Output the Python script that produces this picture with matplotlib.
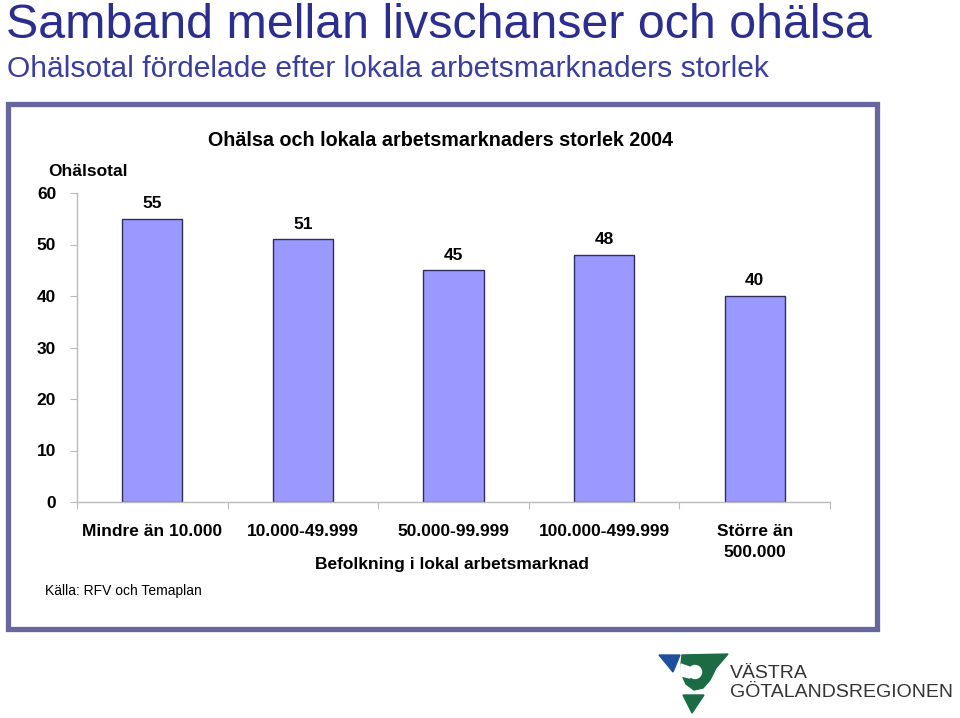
import matplotlib.pyplot as plt
from matplotlib.patches import Rectangle, Polygon, Ellipse

plt.rcParams['font.family'] = ['Liberation Sans', 'DejaVu Sans']

# data
categories = ['Mindre än 10.000', '10.000-49.999', '50.000-99.999',
              '100.000-499.999', 'Större än\n500.000']
values = [55, 51, 45, 48, 40]
yticks = [0, 10, 20, 30, 40, 50, 60]

W, H = 960, 718
fig = plt.figure(figsize=(9.6, 7.18), dpi=100)

def fx(px):
    return px / W

def fy(py):
    return 1 - py / H

# headings
fig.text(fx(6), fy(38), 'Samband mellan livschanser och ohälsa', fontsize=34.8,
         color='#2B2E8F', va='baseline', ha='left')
fig.text(fx(7), fy(77), 'Ohälsotal fördelade efter lokala arbetsmarknaders storlek',
         fontsize=21.6, color='#3A3F9E', va='baseline', ha='left')

# frame
fig.patches.append(Rectangle((fx(8), fy(629)), fx(877) - fx(8), fy(104) - fy(629),
                             transform=fig.transFigure, fill=False,
                             edgecolor='#67679E', linewidth=3.8, zorder=0))

ax = fig.add_axes([fx(77), fy(502), fx(830) - fx(77), fy(193) - fy(502)])
x = range(len(values))
bars = ax.bar(x, values, width=0.4, color='#9999FF', edgecolor='#2E2E5E', linewidth=1.0)
for i, v in enumerate(values):
    ax.annotate(str(v), (i, v), xytext=(0, 5.5), textcoords='offset points',
                ha='center', va='bottom', fontsize=12.5, fontweight='bold')

ax.set_xlim(-0.5, len(values) - 0.5)
ax.set_ylim(0, 60)
ax.set_yticks(yticks)
ax.set_yticklabels([str(t) for t in yticks], fontsize=12.5, fontweight='bold')
ax.set_xticks([i + 0.5 for i in range(-1, len(values))])
ax.set_xticklabels([])
ax.set_xticks(list(x), minor=True)
ax.set_xticklabels(categories, minor=True, fontsize=12.5, fontweight='bold',
                   linespacing=1.45)
ax.tick_params(axis='x', which='minor', length=0, pad=16)
ax.tick_params(axis='x', which='major', length=5, color='#BBBBBB')
ax.tick_params(axis='y', length=5, color='#BBBBBB', pad=10)
for s in ['top', 'right']:
    ax.spines[s].set_visible(False)
for s in ['left', 'bottom']:
    ax.spines[s].set_color('#BBBBBB')
    ax.spines[s].set_linewidth(1.0)

fig.text(fx(440), fy(141), 'Ohälsa och lokala arbetsmarknaders storlek 2004',
         fontsize=14.2, fontweight='bold', ha='center', va='center')
fig.text(fx(88), fy(171), 'Ohälsotal', fontsize=12.5, fontweight='bold',
         ha='center', va='center')
fig.text(fx(452), fy(564), 'Befolkning i lokal arbetsmarknad', fontsize=12.5,
         fontweight='bold', ha='center', va='center')
fig.text(fx(45), fy(591), 'Källa: RFV och Temaplan', fontsize=10,
         ha='left', va='center')

# logo
blue_tri = [(659, 655), (680, 655), (673, 672)]
green_swirl = [(682, 655), (728, 654), (716, 668), (710, 680), (703, 688),
               (694, 690), (686, 684), (682, 675), (681, 664)]
green_tri = [(683, 695), (704, 695), (692, 713)]
fig.patches.append(Polygon([(fx(a), fy(b)) for a, b in blue_tri], closed=True,
                           transform=fig.transFigure, color='#1F4F9C'))
fig.patches.append(Polygon([(fx(a), fy(b)) for a, b in green_swirl], closed=True,
                           transform=fig.transFigure, color='#1B6B45'))
fig.patches.append(Polygon([(fx(a), fy(b)) for a, b in green_tri], closed=True,
                           transform=fig.transFigure, color='#1B6B45'))
fig.patches.append(Ellipse((fx(695), fy(672)), 13 / W, 13 / H,
                           transform=fig.transFigure, color='white'))
fig.patches.append(Polygon([(fx(a), fy(b)) for a, b in
                            [(681, 664), (692, 668), (690, 678), (681, 676)]],
                           closed=True, transform=fig.transFigure, color='white'))
fig.text(fx(730), fy(678), 'VÄSTRA', fontsize=14, color='#333333',
         ha='left', va='baseline')
fig.text(fx(730), fy(697), 'GÖTALANDSREGIONEN', fontsize=14, color='#333333',
         ha='left', va='baseline')

fig.savefig('out.png', dpi=100)
